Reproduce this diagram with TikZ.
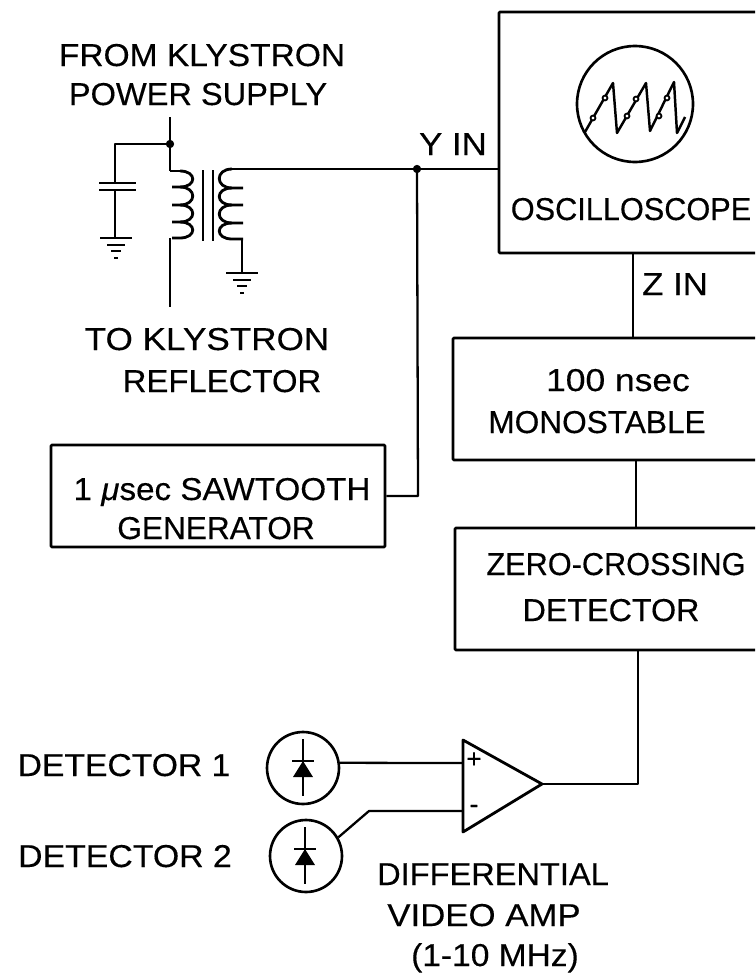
\documentclass[tikz,border=0pt]{standalone}
\usepackage{fontspec}
\setmainfont{Liberation Sans}
\newfontfamily\labelfont[FakeBold=0.3]{Liberation Sans}
\usetikzlibrary{fit,positioning}

\tikzset{
    blockbox/.style={draw, line width=1.5pt, rounded corners=0.5pt, inner sep=0pt},
    textlabel/.style={font=\labelfont\fontsize{18}{18}\selectfont, inner sep=0pt, anchor=base, transform shape, xscale=#1},
    textlabel/.default=1,
    wire/.style={line width=1.3pt},
    heavywire/.style={line width=1.6pt},
    lens/.style={draw, circle, line width=1.5pt, minimum size=1.44cm, inner sep=0pt},
    junction/.style={draw, circle, fill=black, minimum size=0.15cm, inner sep=0pt}
}

\begin{document}
\begin{tikzpicture}[x=0.02cm, y=-0.02cm, >=stealth, line join=round]
    \path[use as bounding box, clip] (0,0) rectangle (755,974);
    \fill[white] (0,0) rectangle (755,974);

    % blocks, the open ones run past the page edge
    \node[blockbox, fit={(499,12) (790,253)}]  (scope)    {};
    \node[blockbox, fit={(453,338) (790,460)}] (mono)     {};
    \node[blockbox, fit={(455,528) (790,650)}] (zero)     {};
    \node[blockbox, fit={(51,445) (385,547)}]  (saw)      {};
    \node[draw, circle, line width=1.5pt, minimum size=2.32cm, inner sep=0pt] (screen) at (635,104) {};
    \node[lens]                                (det1)  at (303,768) {};
    \node[lens]                                (det2)  at (306,856) {};

    \coordinate (amptop)   at (463,740);
    \coordinate (ampbot)   at (463,832);
    \coordinate (amptip)   at (542,784);
    \coordinate (ampplus)  at (463,763);
    \coordinate (ampminus) at (463,811);
    \coordinate (ampknee)  at (369,811);
    \coordinate (ampelbow) at (638,784);
    \coordinate (yjoin)    at (417,169);
    \coordinate (sawknee)  at (418,496);
    \coordinate (topjoin)  at (170,144);
    \draw[heavywire] (amptop) -- (amptip) -- (ampbot) -- cycle;

    % labels
    \node[textlabel=1.06]  (froml)  at (202,66)  {FROM KLYSTRON};
    \node[textlabel=1.03]  (powerl) at (198,105) {POWER SUPPLY};
    \node[textlabel=1.11]  (tol)    at (207,350) {TO KLYSTRON};
    \node[textlabel=1.04]  (refl)   at (222,392) {REFLECTOR};
    \node[textlabel=1.1]   (yinl)   at (453,155) {Y IN};
    \node[textlabel=1.1]   (zinl)   at (675,295) {Z IN};
    \node[textlabel=0.97]  (oscl)   at (631,220) {OSCILLOSCOPE};
    \node[textlabel=1.12]  (nsecl)  at (618,391) {100 nsec};
    \node[textlabel=1]     (monol)  at (597,433) {MONOSTABLE};
    \node[textlabel=1.05]  (sawl)   at (222,500) {1 \textit{μ}sec SAWTOOTH};
    \node[textlabel=1]     (genl)   at (216,539) {GENERATOR};
    \node[textlabel=0.97]  (zerol)  at (616,575) {ZERO-CROSSING};
    \node[textlabel=1.02]  (detl)   at (611,621) {DETECTOR};
    \node[textlabel=1.065] (det1l)  at (124,776) {DETECTOR 1};
    \node[textlabel=1.07]  (det2l)  at (125,867) {DETECTOR 2};
    \node[textlabel=1.03]  (diffl)  at (493,885) {DIFFERENTIAL};
    \node[textlabel=1.1]   (videol) at (484,926) {VIDEO AMP};
    \node[textlabel=1.06]  (rangel) at (495,966) {(1-10 MHz)};
    \node[inner sep=0pt, font=\labelfont\fontsize{15}{15}\selectfont] (plusl)  at (474,760) {+};
    \node[inner sep=0pt, font=\labelfont\fontsize{15}{15}\selectfont] (minusl) at (474,809) {-};

    % connectors
    \draw[wire] (det1.8) -- (ampplus);
    \draw[wire] (det2.30) -- (ampknee) -- (ampminus);
    \draw[wire] (amptip) -- (ampelbow) -- (zero.south -| ampelbow);
    \draw[wire] (mono.south -| 636,0) -- (zero.north -| 636,0);
    \draw[wire] (scope.south -| 633,0) -- (mono.north -| 633,0);
    \draw[wire] (saw.east |- sawknee) -- (sawknee) -- (yjoin);
    \draw[wire] (240,169) -- (yjoin) -- (scope.west |- yjoin);
    \node[junction] (yjoindot) at (yjoin) {};

    % scope trace
    \draw[line width=1.4pt] (585,132) -- (613,83) -- (617,133) -- (646,83) -- (650,131) -- (674,82) -- (677,133) -- (685,117);
    \foreach \bx/\by in {593/118, 605/98, 627/116, 636/99, 659/116, 667/98}
        \draw[line width=1pt, fill=white] (\bx,\by) circle (2.5);

    % power supply feed and capacitor
    \draw[heavywire] (170,117) -- (170,171);
    \draw[heavywire] (topjoin) -- (115,144) -- (115,183);
    \draw[heavywire] (115,190) -- (115,238);
    \draw[heavywire] (99,183) -- (136,183);
    \draw[heavywire] (99,190) -- (136,190);
    \node[junction] (topjoindot) at (topjoin) {};

    % transformer
    \draw[heavywire] (170,171) -- (180,171);
    \foreach \ya/\yb in {171/187, 187/205, 205/222, 222/238} {
        \draw[heavywire] (180,\ya) .. controls (197,\ya) and (197,\yb) .. (180,\yb) -- (172,\yb);
    }
    \draw[heavywire] (170,238) -- (170,307);
    \draw[heavywire] (203,170) -- (203,241);
    \draw[heavywire] (213,170) -- (213,241);
    \draw[heavywire] (240,169) -- (232,169);
    \foreach \ya/\yb in {169/188, 188/205, 205/223, 223/239} {
        \draw[heavywire] (232,\ya) .. controls (215,\ya) and (215,\yb) .. (232,\yb) -- (243,\yb);
    }
    \draw[heavywire] (242,239) -- (242,273);

    % grounds
    \foreach \gx/\gy in {116/238, 242/273} {
        \draw[heavywire] (\gx-16,\gy) -- (\gx+16,\gy);
        \draw[heavywire] (\gx-9,\gy+7) -- (\gx+9,\gy+7);
        \draw[heavywire] (\gx-5,\gy+13) -- (\gx+5,\gy+13);
        \draw[heavywire] (\gx-2,\gy+20) -- (\gx+2,\gy+20);
    }

    % diodes
    \foreach \dx/\dy in {303/739, 305/827} {
        \draw[heavywire] (\dx,\dy) -- (\dx,\dy+57);
        \draw[heavywire] (\dx-11,\dy+22) -- (\dx+11,\dy+22);
        \fill (\dx,\dy+22) -- (\dx+10,\dy+38) -- (\dx-10,\dy+38) -- cycle;
    }
\end{tikzpicture}
\end{document}
